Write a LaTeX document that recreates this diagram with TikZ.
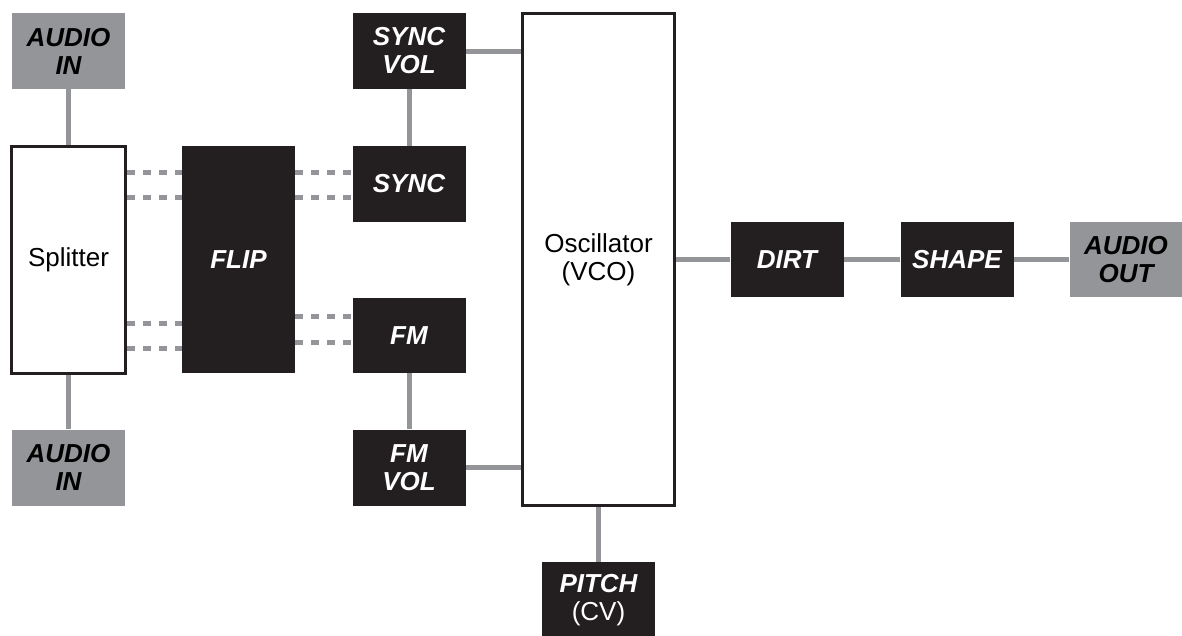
\documentclass[tikz,border=0pt]{standalone}
\usepackage{fontspec}
\setmainfont{Liberation Sans}
\usetikzlibrary{backgrounds}
\definecolor{boxgray}{HTML}{939598}
\definecolor{boxblack}{HTML}{231F20}
\definecolor{linegray}{HTML}{939598}
\tikzset{
  io/.style={rectangle, fill=boxgray, minimum width=113pt, minimum height=76pt, inner sep=0pt,
    align=center, font=\fontsize{26}{28}\selectfont\bfseries\itshape, text=black},
  blk/.style={rectangle, fill=boxblack, minimum width=113pt, minimum height=76pt, inner sep=0pt,
    align=center, font=\fontsize{26}{28}\selectfont\bfseries\itshape, text=white},
  wbox/.style={rectangle, draw=boxblack, line width=3pt, fill=white, inner sep=0pt,
    align=center, font=\fontsize{26}{28}\selectfont, text=black},
  conn/.style={draw=linegray, line width=5pt},
  dconn/.style={draw=linegray, line width=5pt, dash pattern=on 8pt off 8pt}
}
\begin{document}
\begin{tikzpicture}[x=1pt,y=-1pt]
\useasboundingbox (0,0) rectangle (1182,635);
\node[io] (ain1) at (68.5,51) {AUDIO\\IN};
\node[wbox, minimum width=114pt, minimum height=227pt] (split) at (68.5,260) {Splitter};
\node[io] (ain2) at (68.5,467.5) {AUDIO\\IN};
\node[blk, minimum height=227pt] (flip) at (238.5,259.5) {FLIP};
\node[blk] (svol) at (409,51) {SYNC\\VOL};
\node[blk] (sync) at (409,184) {SYNC};
\node[blk, minimum height=75pt] (fm) at (409,335.5) {FM};
\node[blk] (fvol) at (409,467.5) {FM\\VOL};
\node[wbox, minimum width=152pt, minimum height=492pt] (osc) at (598.5,259.5) {Oscillator\\(VCO)};
\node[blk] (pitch) at (598.5,600) {PITCH\\{\normalfont (CV)}};
\node[blk, minimum height=75pt] (dirt) at (787,259.5) {DIRT};
\node[blk, minimum height=75pt] (shape) at (957,259.5) {SHAPE};
\node[io, minimum height=75pt] (aout) at (1126,259.5) {AUDIO\\OUT};
\begin{scope}[on background layer]
\draw[conn] (ain1) -- (split);
\draw[conn] (split) -- (ain2);
\draw[conn] (svol) -- (sync);
\draw[conn] (fm) -- (fvol);
\draw[conn] (svol.east) -- (svol.east -| osc.west);
\draw[conn] (fvol.east) -- (fvol.east -| osc.west);
\draw[conn] (osc) -- (pitch);
\draw[conn] (osc.east |- dirt.west) -- (dirt.west);
\draw[conn] (dirt) -- (shape);
\draw[conn] (shape) -- (aout);
\draw[dconn] (split.east |- 0,172) -- (flip.west |- 0,172);
\draw[dconn] (split.east |- 0,197) -- (flip.west |- 0,197);
\draw[dconn] (split.east |- 0,323) -- (flip.west |- 0,323);
\draw[dconn] (split.east |- 0,348) -- (flip.west |- 0,348);
\draw[dconn] (flip.east |- 0,172) -- (sync.west |- 0,172);
\draw[dconn] (flip.east |- 0,197) -- (sync.west |- 0,197);
\draw[dconn] (flip.east |- 0,316) -- (fm.west |- 0,316);
\draw[dconn] (flip.east |- 0,342) -- (fm.west |- 0,342);
\end{scope}
\end{tikzpicture}
\end{document}
